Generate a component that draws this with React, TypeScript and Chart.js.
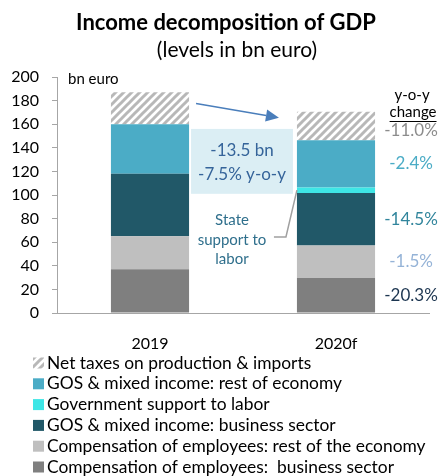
import React, { useEffect, useRef } from "react";
import { Chart, registerables } from "chart.js";

Chart.register(...registerables);

const categories = ["2019", "2020f"];
const compBusiness = [37, 29.6];
const compRest = [28, 27.6];
const gosBusiness = [53, 44.6];
const govSupport = [0, 4.6];
const gosRest = [42, 40.1];
const netTaxes = [27, 24];

const seriesLabels = [
  "Compensation of employees:  business sector",
  "Compensation of employees: rest of the economy",
  "GOS & mixed income: business sector",
  "Government support to labor",
  "GOS & mixed income: rest of economy",
  "Net taxes on production & imports",
];
const seriesColors = ["#7f7f7f", "#bfbfbf", "#215868", "#3ee6e6", "#4bacc6", "HATCH"];
const yoyLabels = ["-20.3%", "-1.5%", "-14.5%", "", "-2.4%", "-11.0%"];
const yoyColors = ["#1c3550", "#95b3d7", "#31859c", "", "#4bacc6", "#8c8c8c"];

const titleText = "Income decomposition of GDP";
const subtitleText = "(levels in bn euro)";
const unitText = "bn euro";
const boxLines = ["-13.5 bn", "-7.5% y-o-y"];
const stateLines = ["State", "support to", "labor"];

const FONT = "Lato, 'Noto Sans', sans-serif";

function makeHatch(): CanvasPattern | string {
  const c = document.createElement("canvas");
  c.width = 8;
  c.height = 8;
  const g = c.getContext("2d");
  if (!g) return "#cccccc";
  g.fillStyle = "#ffffff";
  g.fillRect(0, 0, 8, 8);
  g.strokeStyle = "#b8b8b8";
  g.lineWidth = 3;
  g.beginPath();
  g.moveTo(-2, 10);
  g.lineTo(10, -2);
  g.moveTo(-6, 6);
  g.lineTo(6, -6);
  g.moveTo(2, 14);
  g.lineTo(14, 2);
  g.stroke();
  return g.createPattern(c, "repeat") || "#cccccc";
}

export default function App() {
  const ref = useRef<HTMLCanvasElement | null>(null);

  useEffect(() => {
    if (!ref.current) return;
    const hatch = makeHatch();
    const values = [compBusiness, compRest, gosBusiness, govSupport, gosRest, netTaxes];
    const colors = seriesColors.map((c) => (c === "HATCH" ? hatch : c));

    const overlay = {
      id: "overlay",
      afterDraw(chart: any) {
        const ctx = chart.ctx as CanvasRenderingContext2D;
        const y = chart.scales.y;
        const metas = values.map((_, i) => chart.getDatasetMeta(i));
        const b19 = metas[0].data[0];
        const b20 = metas[0].data[1];
        const w = b19.width;
        const r19 = b19.x + w / 2;
        const l20 = b20.x - w / 2;
        const r20 = b20.x + w / 2;

        ctx.save();
        ctx.textAlign = "center";
        ctx.textBaseline = "middle";
        // titles
        ctx.fillStyle = "#000";
        ctx.font = `bold 22px ${FONT}`;
        ctx.fillText(titleText, 226, 23);
        ctx.font = `21px ${FONT}`;
        ctx.fillText(subtitleText, 237, 50);

        // unit
        ctx.textAlign = "left";
        ctx.font = `15px ${FONT}`;
        ctx.fillText(unitText, 68, 79);

        // text box
        const bx0 = r19 + 2;
        const bx1 = l20 - 4;
        const by0 = y.getPixelForValue(156);
        const by1 = y.getPixelForValue(101);
        ctx.fillStyle = "#dbeef4";
        ctx.fillRect(bx0, by0, bx1 - bx0, by1 - by0);
        ctx.fillStyle = "#35649a";
        ctx.textAlign = "center";
        ctx.font = `17px ${FONT}`;
        const bc = (bx0 + bx1) / 2;
        const bm = (by0 + by1) / 2;
        ctx.fillText(boxLines[0], bc, bm - 11);
        ctx.fillText(boxLines[1], bc, bm + 13);

        // arrow
        const ax0 = r19 + 7;
        const ay0 = y.getPixelForValue(177.5);
        const ax1 = l20 - 18;
        const ay1 = y.getPixelForValue(165.5);
        const ang = Math.atan2(ay1 - ay0, ax1 - ax0);
        const hl = 13;
        const hw = 6;
        ctx.strokeStyle = "#4a7ebb";
        ctx.fillStyle = "#4a7ebb";
        ctx.lineWidth = 1.5;
        ctx.beginPath();
        ctx.moveTo(ax0, ay0);
        ctx.lineTo(ax1 - hl * Math.cos(ang), ay1 - hl * Math.sin(ang));
        ctx.stroke();
        ctx.beginPath();
        ctx.moveTo(ax1, ay1);
        ctx.lineTo(
          ax1 - hl * Math.cos(ang) + hw * Math.sin(ang),
          ay1 - hl * Math.sin(ang) - hw * Math.cos(ang)
        );
        ctx.lineTo(
          ax1 - hl * Math.cos(ang) - hw * Math.sin(ang),
          ay1 - hl * Math.sin(ang) + hw * Math.cos(ang)
        );
        ctx.closePath();
        ctx.fill();

        // state support text
        ctx.fillStyle = "#2f6f8c";
        ctx.font = `15px ${FONT}`;
        const sx = bc - 10;
        ctx.fillText(stateLines[0], sx, y.getPixelForValue(79));
        ctx.fillText(stateLines[1], sx, y.getPixelForValue(62));
        ctx.fillText(stateLines[2], sx, y.getPixelForValue(46));
        // connector
        const gov = metas[3].data[1];
        const gy = (gov.y + gov.base) / 2;
        const hy = y.getPixelForValue(64.5);
        ctx.strokeStyle = "#a0a0a0";
        ctx.lineWidth = 1.5;
        ctx.beginPath();
        ctx.moveTo(l20 - 23, hy);
        ctx.lineTo(l20 - 11, hy);
        ctx.lineTo(l20, gy);
        ctx.stroke();

        // y-o-y header
        const lx = r20 + 36;
        ctx.fillStyle = "#000";
        ctx.font = `15px ${FONT}`;
        ctx.fillText("y-o-y", lx + 1, 95);
        ctx.fillText("change", lx + 2, 112);
        const cw = ctx.measureText("change").width;
        ctx.strokeStyle = "#000";
        ctx.lineWidth = 1;
        ctx.beginPath();
        ctx.moveTo(lx + 2 - cw / 2, 121.5);
        ctx.lineTo(lx + 2 + cw / 2, 121.5);
        ctx.stroke();

        // y-o-y labels
        ctx.font = `17px ${FONT}`;
        yoyLabels.forEach((t, i) => {
          if (!t) return;
          const el = metas[i].data[1];
          let my = (el.y + el.base) / 2;
          if (i === 5) my += 5;
          ctx.fillStyle = yoyColors[i];
          ctx.fillText(t, lx, my);
        });

        // legend
        ctx.textAlign = "left";
        ctx.font = `17.4px ${FONT}`;
        for (let k = 0; k < 6; k++) {
          const i = 5 - k;
          const ly = 363 + k * 20.8;
          ctx.fillStyle = colors[i] as any;
          ctx.fillRect(33, ly - 5.5, 11, 11);
          ctx.fillStyle = "#000";
          ctx.fillText(seriesLabels[i], 47, ly);
        }
        ctx.restore();
      },
    };

    const chart = new Chart(ref.current, {
      type: "bar",
      data: {
        labels: categories,
        datasets: values.map((v, i) => ({
          label: seriesLabels[i],
          data: v,
          backgroundColor: colors[i] as any,
          borderWidth: 0,
          barPercentage: 0.42,
          categoryPercentage: 1,
        })),
      },
      options: {
        responsive: false,
        animation: false,
        devicePixelRatio: 1,
        layout: { padding: { top: 77, left: 0, right: 10, bottom: 123 } },
        plugins: {
          legend: { display: false },
          title: { display: false },
          tooltip: { enabled: false },
        },
        scales: {
          x: {
            stacked: true,
            grid: { display: false, drawTicks: false },
            border: { display: true, color: "#a6a6a6", width: 1 },
            ticks: { font: { family: FONT, size: 16 }, color: "#000", padding: 21 },
            afterFit: (s: any) => {
              s.height = 40;
            },
          },
          y: {
            stacked: true,
            min: 0,
            max: 200,
            ticks: { stepSize: 20, font: { family: FONT, size: 16 }, color: "#000", padding: 13 },
            grid: { drawOnChartArea: false, drawTicks: true, tickLength: 5, color: "#a6a6a6" },
            border: { display: true, color: "#a6a6a6", width: 1 },
            afterFit: (s: any) => {
              s.width = 57;
            },
          },
        },
      },
      plugins: [overlay],
    });
    return () => chart.destroy();
  }, []);

  return (
    <div style={{ position: "absolute", left: 0, top: 0, width: 439, height: 476, background: "#fff" }}>
      <canvas ref={ref} width={439} height={476} style={{ width: 439, height: 476, display: "block" }} />
    </div>
  );
}
